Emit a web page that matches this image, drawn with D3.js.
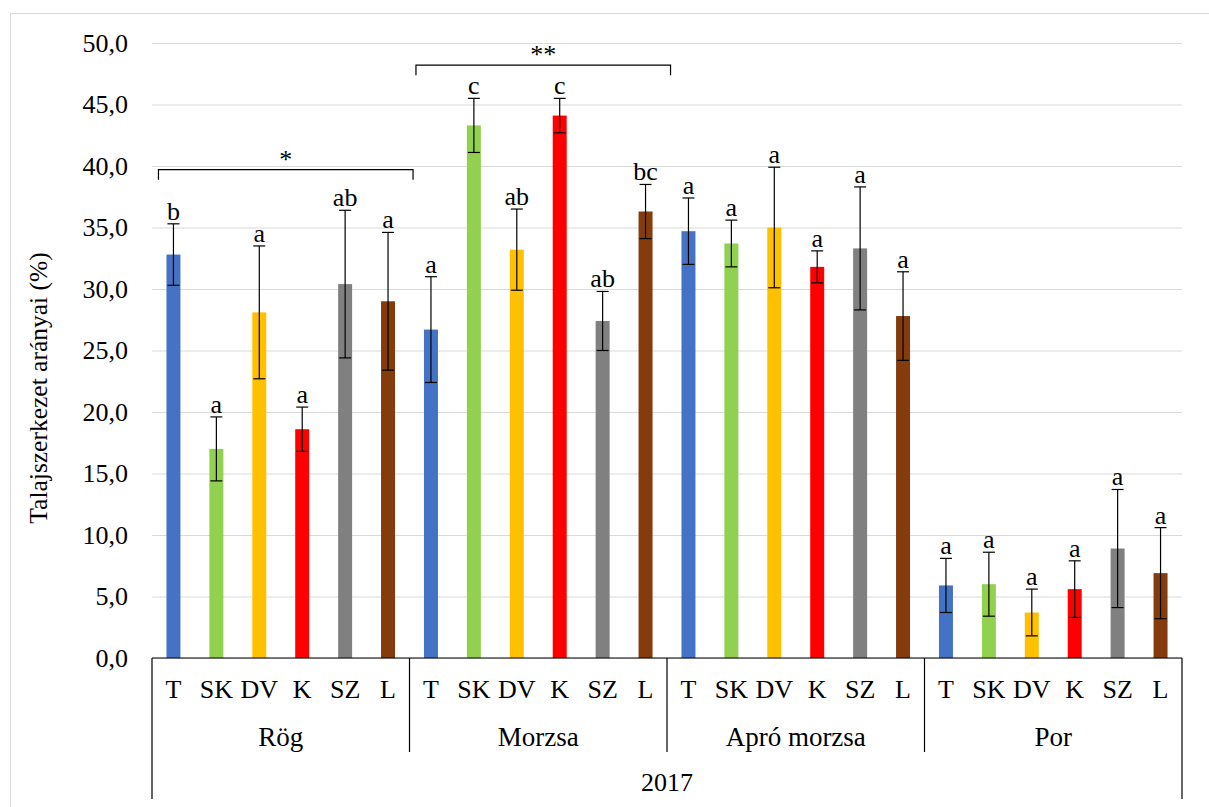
<!DOCTYPE html>
<html>
<head>
<meta charset="utf-8">
<script src="https://cdn.jsdelivr.net/npm/d3@7"></script>
<style>
  html, body { margin: 0; padding: 0; background: #fff; }
  svg { display: block; }
</style>
</head>
<body>
<svg id="chart" width="1209" height="807"></svg>
<script>
// ---------------- data ----------------
const groups = ["Rög", "Morzsa", "Apró morzsa", "Por"];
const treatments = ["T", "SK", "DV", "K", "SZ", "L"];
const colors = ["#4472C4", "#92D050", "#FFC000", "#FF0000", "#808080", "#843C0C"];
const yearLabel = "2017";
const yTitle = "Talajszerkezet arányai (%)";
const yTicks = [0, 5, 10, 15, 20, 25, 30, 35, 40, 45, 50];

const rogValues    = [32.8, 17.0, 28.1, 18.6, 30.4, 29.0];
const morzsaValues = [26.7, 43.3, 33.2, 44.1, 27.4, 36.3];
const aproValues   = [34.7, 33.7, 35.0, 31.8, 33.3, 27.8];
const porValues    = [5.9, 6.0, 3.7, 5.6, 8.9, 6.9];

const rogErrors    = [2.5, 2.6, 5.4, 1.8, 6.0, 5.6];
const morzsaErrors = [4.3, 2.2, 3.3, 1.4, 2.4, 2.2];
const aproErrors   = [2.7, 1.9, 4.9, 1.3, 5.0, 3.6];
const porErrors    = [2.2, 2.6, 1.9, 2.3, 4.8, 3.7];

const rogLetters    = ["b", "a", "a", "a", "ab", "a"];
const morzsaLetters = ["a", "c", "ab", "c", "ab", "bc"];
const aproLetters   = ["a", "a", "a", "a", "a", "a"];
const porLetters    = ["a", "a", "a", "a", "a", "a"];

// significance brackets: group index, level (value), label
const bracketGroups = [0, 1];
const bracketLevels = [39.7, 48.2];
const bracketLabels = ["*", "**"];

// ---------------- build rows ----------------
const valueSets = [rogValues, morzsaValues, aproValues, porValues];
const errorSets = [rogErrors, morzsaErrors, aproErrors, porErrors];
const letterSets = [rogLetters, morzsaLetters, aproLetters, porLetters];
const rows = [];
groups.forEach((g, gi) => {
  treatments.forEach((t, ti) => {
    rows.push({ key: g + "|" + t, group: g, gi, t, ti,
      value: valueSets[gi][ti], err: errorSets[gi][ti], letter: letterSets[gi][ti] });
  });
});

// ---------------- layout ----------------
const FONT = "'Liberation Serif', 'Times New Roman', Times, 'DejaVu Serif', serif";
const svg = d3.select("#chart").attr("font-family", FONT);
const mLeft = 152, mRight = 1182, mTop = 43, mBottom = 658;

const x = d3.scaleBand().domain(rows.map(d => d.key)).range([mLeft, mRight])
  .paddingInner(0.674).paddingOuter(0.337);
const y = d3.scaleLinear().domain([0, 50]).range([mBottom, mTop]);

// chart border
svg.append("rect").attr("x", 10.5).attr("y", 13.5).attr("width", 1230).attr("height", 820)
  .attr("fill", "none").attr("stroke", "#d9d9d9").attr("stroke-width", 1);

// gridlines + y axis labels
const yAxis = d3.axisLeft(y).tickValues(yTicks).tickSize(-(mRight - mLeft)).tickPadding(24)
  .tickFormat(d => d3.format(".1f")(d).replace(".", ","));
const ga = svg.append("g").attr("transform", `translate(${mLeft},0)`).call(yAxis)
  .attr("font-family", FONT).attr("font-size", 26);
ga.select(".domain").remove();
ga.selectAll(".tick line").attr("stroke", "#d9d9d9").attr("stroke-width", 1);
ga.selectAll(".tick text").attr("fill", "#000").style("font-family", FONT);

// bars
svg.append("g").selectAll("rect").data(rows).join("rect")
  .attr("x", d => x(d.key)).attr("width", x.bandwidth())
  .attr("y", d => y(d.value)).attr("height", d => y(0) - y(d.value))
  .attr("fill", d => colors[d.ti]);

// error bars
const eb = svg.append("g").attr("stroke", "#000").attr("stroke-width", 1.2);
const cx = d => x(d.key) + x.bandwidth() / 2;
eb.selectAll("line.v").data(rows).join("line").attr("class", "v")
  .attr("x1", cx).attr("x2", cx)
  .attr("y1", d => y(d.value + d.err)).attr("y2", d => y(d.value - d.err));
eb.selectAll("line.t").data(rows).join("line").attr("class", "t")
  .attr("x1", d => cx(d) - 6).attr("x2", d => cx(d) + 6)
  .attr("y1", d => y(d.value + d.err)).attr("y2", d => y(d.value + d.err));
eb.selectAll("line.b").data(rows).join("line").attr("class", "b")
  .attr("x1", d => cx(d) - 6).attr("x2", d => cx(d) + 6)
  .attr("y1", d => y(d.value - d.err)).attr("y2", d => y(d.value - d.err));

const txt = sel => sel.style("font-family", FONT).attr("fill", "#000");

// letters
svg.append("g").selectAll("text").data(rows).join("text")
  .attr("x", cx).attr("y", d => y(d.value + d.err) - 4)
  .attr("text-anchor", "middle").attr("font-size", 26)
  .call(txt).text(d => d.letter);

// baseline
svg.append("line").attr("x1", mLeft).attr("x2", mRight).attr("y1", y(0)).attr("y2", y(0))
  .attr("stroke", "#000").attr("stroke-width", 1.2);

// category labels
svg.append("g").selectAll("text").data(rows).join("text")
  .attr("x", cx).attr("y", 698).attr("text-anchor", "middle").attr("font-size", 26)
  .call(txt).text(d => d.t);

// group separators
const groupStart = gi => mLeft + gi * (mRight - mLeft) / groups.length;
const groupEnd = gi => mLeft + (gi + 1) * (mRight - mLeft) / groups.length;
const sepG = svg.append("g").attr("stroke", "#000").attr("stroke-width", 1.2);
d3.range(groups.length + 1).forEach(i => {
  const xx = groupStart(i);
  const outer = (i === 0 || i === groups.length);
  sepG.append("line").attr("x1", xx).attr("x2", xx).attr("y1", y(0)).attr("y2", outer ? 799 : 752);
});

// group labels
svg.append("g").selectAll("text").data(groups).join("text")
  .attr("x", (d, i) => (groupStart(i) + groupEnd(i)) / 2).attr("y", 746)
  .attr("text-anchor", "middle").attr("font-size", 27).call(txt).text(d => d);

// year label
svg.append("text").attr("x", (mLeft + mRight) / 2).attr("y", 791)
  .attr("text-anchor", "middle").attr("font-size", 26).call(txt).text(yearLabel);

// y title
svg.append("text").attr("transform", `translate(47,388) rotate(-90)`)
  .attr("text-anchor", "middle").attr("font-size", 25.5).call(txt).text(yTitle);

// brackets
const br = svg.append("g");
bracketGroups.forEach((gi, k) => {
  const first = rows[gi * treatments.length];
  const last = rows[gi * treatments.length + treatments.length - 1];
  const x0 = x(first.key) - 8;
  const x1 = x(last.key) + x.bandwidth() + 18;
  const yy = y(bracketLevels[k]);
  br.append("path").attr("d", `M${x0},${yy + 10}V${yy}H${x1}V${yy + 10}`)
    .attr("fill", "none").attr("stroke", "#000").attr("stroke-width", 1.2);
  br.append("text").attr("x", (x0 + x1) / 2).attr("y", yy - 2)
    .attr("text-anchor", "middle").attr("font-size", 26).call(txt).text(bracketLabels[k]);
});
</script>
</body>
</html>
